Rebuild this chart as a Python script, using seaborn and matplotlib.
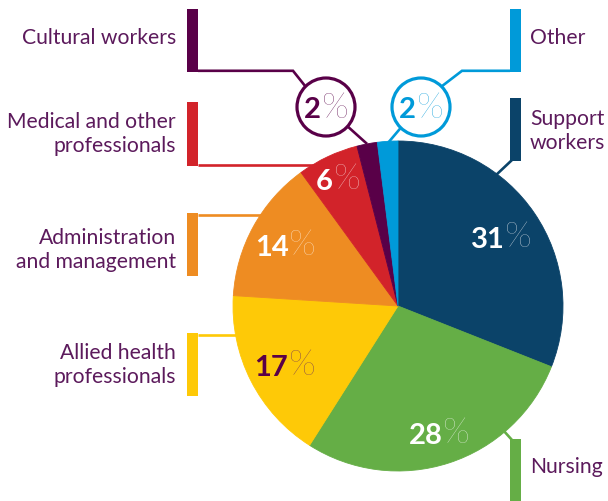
import numpy as np
import matplotlib
matplotlib.use("Agg")
import matplotlib.pyplot as plt
from matplotlib.patches import Rectangle, Circle
from matplotlib import font_manager as fm
import seaborn as sns

# ---------------- data ----------------
categories = ["Support workers", "Nursing", "Allied health professionals",
              "Administration and management", "Medical and other professionals",
              "Cultural workers", "Other"]
values = [31, 28, 17, 14, 6, 2, 2]
label_lines = [["Support", "workers"], ["Nursing"], ["Allied health", "professionals"],
               ["Administration", "and management"], ["Medical and other", "professionals"],
               ["Cultural workers"], ["Other"]]
slice_colors = ["#0b4369", "#65ae46", "#fec907", "#ee8c22", "#d2232a", "#590048", "#009ad9"]

# ---------------- style ----------------
sns.set_theme(style="white")
plt.rcParams["font.family"] = ["Lato", "DejaVu Sans"]
TXT = "#5c1a5c"

# find a thin font face for the % signs (prefer light ~300, else thinnest)
cands = []
for fam in ["Lato", "Open Sans", "Roboto", "Inter", "Noto Sans"]:
    for f in fm.fontManager.ttflist:
        if f.name == fam and f.style == "normal":
            wt = f.weight if isinstance(f.weight, int) else 400
            if wt < 400:
                cands.append((abs(wt - 250), fam, f.fname))
    if cands:
        break
if cands:
    cands.sort()
    light_fp = fm.FontProperties(fname=cands[0][2])
else:
    light_fp = fm.FontProperties(family=["Lato", "DejaVu Sans"], weight="light")

W, H = 608, 502
fig = plt.figure(figsize=(W / 100, H / 100), dpi=100)
ax = fig.add_axes([0, 0, 1, 1])

def Y(y):
    return H - y

CX, CY, R = 398, 307, 165
wedges, _ = ax.pie(values, colors=slice_colors, startangle=90, counterclock=False,
                   center=(CX, Y(CY)), radius=R, wedgeprops=dict(linewidth=0.6))
for w in wedges:
    w.set_edgecolor(w.get_facecolor())

ax.set_xlim(0, W)
ax.set_ylim(0, H)
ax.set_aspect("equal")
ax.axis("off")

renderer = fig.canvas.get_renderer()

def pct_label(x, y, val, num_color, pct_color, size=21):
    """centred label: bold number + thin % sign; x,y in pixel coords (y from top)."""
    t1 = ax.text(x, Y(y), str(val), ha="left", va="baseline", fontsize=size,
                 fontweight="bold", color=num_color)
    fp = light_fp.copy()
    fp.set_size(size * 1.2)
    t2 = ax.text(x, Y(y - 1), "%", ha="left", va="baseline", fontproperties=fp,
                 color=pct_color)
    w1 = t1.get_window_extent(renderer).width
    w2 = t2.get_window_extent(renderer).width
    x0 = x - (w1 + w2) / 2
    t1.set_x(x0)
    t2.set_x(x0 + w1 + 0.5)

def mid_angle(w):
    return np.deg2rad((w.theta1 + w.theta2) / 2)

# inside labels
fracs = [0.755, 0.80, 0.77, 0.78, 0.855]
num_cols = ["white", "white", "#5a0048", "white", "white"]
pct_cols = ["#dfe4ea", "#eef5ea", "#6a2a5e", "#fdeedc", "#f8dcdd"]
for i in range(5):
    a = mid_angle(wedges[i])
    lx = CX + fracs[i] * R * np.cos(a)
    ly = CY - fracs[i] * R * np.sin(a)
    pct_label(lx, ly + 11, values[i], num_cols[i], pct_cols[i])

LW = 1.9  # pt (~2.6 px)

def line(pts, color, lw=LW):
    xs = [p[0] for p in pts]
    ys = [Y(p[1]) for p in pts]
    ax.plot(xs, ys, color=color, lw=lw, solid_capstyle="butt", solid_joinstyle="miter")

def bar(x0, y0, y1, color):
    ax.add_patch(Rectangle((x0, Y(y1)), 11, y1 - y0, facecolor=color, edgecolor="none"))

def edge_x_left(y):
    return CX - np.sqrt(R ** 2 - (y - CY) ** 2)

def edge_pt(i, t=0.5):
    w = wedges[i]
    a = np.deg2rad(w.theta1 + t * (w.theta2 - w.theta1))
    return (CX + R * np.cos(a), CY - R * np.sin(a))

# --- left side callouts ---
BX = 187
# Cultural workers (circle)
ccx, ccy, cr = 326, 108, 29
bar(BX, 10, 73, slice_colors[5])
line([(BX + 11, 71.8), (293, 71.8), (ccx - 20.5, ccy - 20.5)], slice_colors[5])
p = edge_pt(5)
d = np.array([p[0] - ccx, p[1] - ccy]); d /= np.linalg.norm(d)
line([(ccx + cr * d[0], ccy + cr * d[1]), p], slice_colors[5])
ax.add_patch(Circle((ccx, Y(ccy)), cr, facecolor="white", edgecolor=slice_colors[5], lw=2.3))
pct_label(ccx, ccy + 10.5, values[5], slice_colors[5], slice_colors[5])

# Medical
bar(BX, 103, 167, slice_colors[4])
line([(BX + 11, 165.5), (edge_x_left(165.5) + 2, 165.5)], slice_colors[4])
# Administration
bar(BX, 214, 277, slice_colors[3])
line([(BX + 11, 215.5), (edge_x_left(215.5) + 2, 215.5)], slice_colors[3])
# Allied health
bar(BX, 334, 397, slice_colors[2])
line([(BX + 11, 335.5), (edge_x_left(335.5) + 2, 335.5)], slice_colors[2])

# --- right side callouts ---
RX = 510
# Other (circle)
ocx, ocy = 421, 108
bar(RX, 10, 73, slice_colors[6])
line([(RX, 71.8), (462, 71.8), (ocx + 20.5, ocy - 20.5)], slice_colors[6])
p = edge_pt(6)
d = np.array([p[0] - ocx, p[1] - ocy]); d /= np.linalg.norm(d)
line([(ocx + cr * d[0], ocy + cr * d[1]), (p[0], p[1] + 2)], slice_colors[6])
ax.add_patch(Circle((ocx, Y(ocy)), cr, facecolor="white", edgecolor=slice_colors[6], lw=2.3))
pct_label(ocx, ocy + 10.5, values[6], slice_colors[6], slice_colors[6])

# Support workers
bar(RX, 99, 162, slice_colors[0])
line([(RX + 2, 161), (495, 177)], slice_colors[0])
# Nursing
bar(RX, 440, 503, slice_colors[1])
line([(RX + 2, 441), (503, 431)], slice_colors[1])

# --- category text ---
FS = 15.2
LS = 24
left_baselines = {2: 359, 3: 244, 4: 128, 5: 44}
right_baselines = {0: 125, 1: 473, 6: 44}
for i, yb in left_baselines.items():
    for k, s in enumerate(label_lines[i]):
        ax.text(176, Y(yb + k * LS), s, ha="right", va="baseline", fontsize=FS, color=TXT)
for i, yb in right_baselines.items():
    for k, s in enumerate(label_lines[i]):
        ax.text(530, Y(yb + k * LS), s, ha="left", va="baseline", fontsize=FS, color=TXT)

fig.savefig("out.png", dpi=100)
